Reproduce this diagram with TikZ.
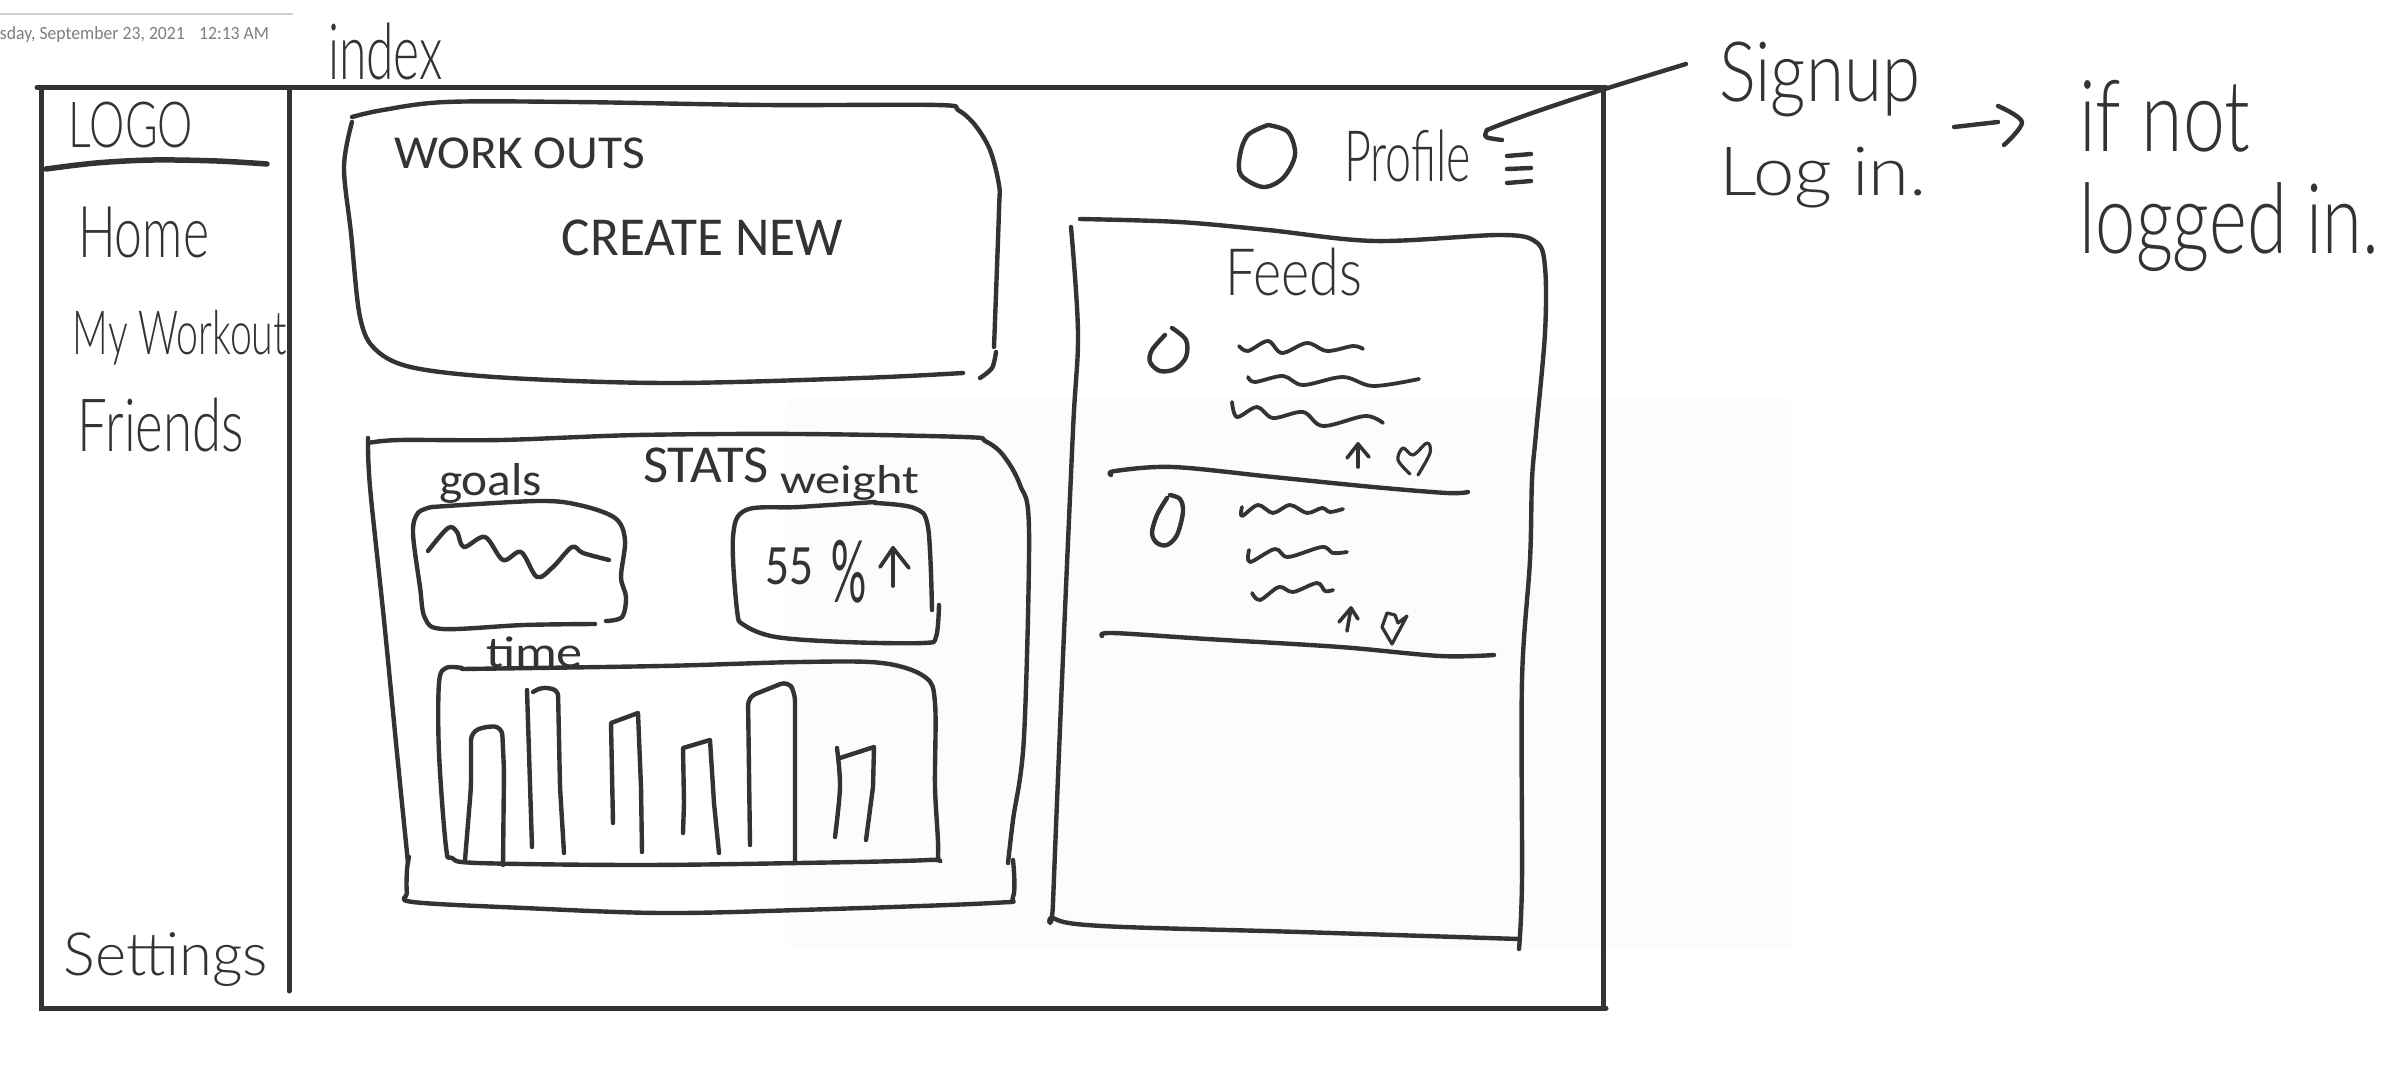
\documentclass[tikz,border=0pt]{standalone}
\usepackage{fontspec}
\usepackage{graphicx}
\setmainfont{Carlito}
\newfontfamily\lightf[UprightFont=* Light]{Lato}
\definecolor{ink}{HTML}{333333}
\definecolor{stamp}{HTML}{7F7F7F}
\definecolor{rulegray}{HTML}{CFCFCF}
\definecolor{ghost}{HTML}{FCFCFC}
\tikzset{
  inkline/.style={draw=ink,line width=4.4pt,line cap=round,line join=round},
  frameline/.style={draw=ink,line width=5pt,line cap=round},
  handtext/.style={inner sep=0pt,outer sep=0pt,text=ink,font=\lightf\fontsize{40}{40}\selectfont},
  smalltext/.style={inner sep=0pt,outer sep=0pt,text=ink,font=\normalfont\fontsize{40}{40}\selectfont},
}
% name, x0, x1, y0, y1, text : a text fitted into its ink box
\newcommand\hw[6]{%
  \pgfmathsetmacro\hwW{#3-#2}\pgfmathsetmacro\hwH{#5-#4}%
  \node[handtext] (#1) at ({(#2+#3)/2},{(#4+#5)/2}) {\resizebox*{\hwW pt}{\hwH pt}{#6}};}
\newcommand\hs[6]{%
  \pgfmathsetmacro\hwW{#3-#2}\pgfmathsetmacro\hwH{#5-#4}%
  \node[smalltext] (#1) at ({(#2+#3)/2},{(#4+#5)/2}) {\resizebox*{\hwW pt}{\hwH pt}{#6}};}
\newcommand\sk[2][]{\draw[inkline,#1] plot[smooth,tension=.55] coordinates {#2};}
\newcommand\pl[2][]{\draw[inkline,#1] plot coordinates {#2};}
\begin{document}
\begin{tikzpicture}[x=1pt,y=-1pt]
\useasboundingbox (0,0) rectangle (2399,1070);
\fill[white] (0,0) rectangle (2399,1070);
\fill[ghost,rounded corners=10pt] (785,398) rectangle (1793,949);
% date stamp
\draw[rulegray,line width=1.5pt] (0,14) -- (293,14);
\node[inner sep=0pt,outer sep=0pt] (date) at (134.5,34.5) {\resizebox*{269pt}{16pt}{\normalfont\fontsize{20}{20}\selectfont\textcolor{stamp}{sday, September 23, 2021\hspace{0.8em}12:13 AM}}};
% page frame
\draw[frameline] (37,87.5) -- (1606,87.5);
\draw[frameline] (41,87.5) -- (41,1008) -- (1606,1008);
\draw[frameline] (1603,87.5) -- (1603,1008);
\draw[frameline] (289,87.5) -- (289,991);
% sidebar
\hw{index}{328}{443}{23}{80}{index}
\hw{logo}{69}{193}{102}{148}{LOGO}
\sk[line width=5.5pt]{(46,169) (96,163) (153,160) (217,161) (267,164)}
\hw{home}{78}{209}{207}{258}{Home}
\hw{myworkout}{73}{287}{310}{365}{My Workout}
\hw{friends}{78}{244}{398}{452}{Friends}
\hw{settings}{64}{268}{933}{987}{Settings}
% workouts box
\sk{(352,117) (383,110) (446,102) (574,102) (765,105) (937,105) (958,110) (975,125) (990,150) (999,185) (999,210) (995,321) (994,347)}
\sk{(996,352) (992,368) (980,378)}
\sk{(963,373) (861,378) (670,383) (510,378) (415,368) (376,350) (360,317) (351,233) (344,167) (352,122)}
\hs{workouts}{394}{645}{138}{169}{WORK OUTS}
\hs{createnew}{562}{843}{220}{256}{CREATE NEW}
% stats box
\sk{(368,443) (400,440) (501,440) (638,435) (799,434) (964,437) (985,441) (1003,455) (1020,485) (1029,530) (1024,737) (1013,820) (1008,863)}
\sk{(1013,860) (1013,897) (992,903) (799,910) (661,913) (524,908) (413,902) (407,893) (407,870) (409,857)}
\sk{(368,438) (370,487) (384,620) (397,753) (408,863)}
\hs{stats}{643}{769}{448}{483}{STATS}
\hs{goals}{439}{542}{463}{503}{goals}
\hs{weight}{780}{919}{465}{500}{weight}
\hs{time}{486}{583}{637}{668}{time}
% goals chart
\sk{(432,507) (418,513) (413,533) (420,587) (425,618) (443,629) (524,625) (595,624)}
\sk{(606,621) (622,617) (626,597) (621,577) (625,540) (615,518) (579,505) (537,501) (432,507)}
\sk{(428,551) (448,528) (457,532) (464,547) (485,537) (503,560) (521,552) (537,577) (553,567) (572,547) (583,553) (609,560)}
% weight box
\sk{(875,503) (914,508) (928,527) (932,610)}
\sk{(939,605) (936,637) (923,643) (845,642) (776,637) (744,625) (737,610) (733,537) (746,510) (799,507) (875,502)}
\hs{pct}{765}{866}{540}{603}{\raisebox{18pt}{\resizebox*{48pt}{37pt}{55}}\hspace{18pt}\resizebox*{35pt}{63pt}{\%}}
\pl[line width=3.8pt]{(893,548) (893,586)}
\pl[line width=3.8pt]{(880,567) (893,548) (909,568)}
% time chart
\sk{(462,668) (446,668) (439,683) (439,753) (446,847) (452,858) (478,863) (638,865) (799,863) (928,860) (938,855) (935,787) (935,703) (925,677) (882,663) (799,662) (661,666) (462,669)}
\pl[rounded corners=8pt]{(465,860) (471,787) (471,732) (487,726) (502,727) (504,770) (503,865)}
\pl{(532,847) (527,690)}
\pl[rounded corners=6pt]{(533,692) (542,687) (558,690) (560,787) (564,853)}
\pl{(613,823) (611,723) (638,713) (641,787) (642,852)}
\pl{(683,833) (684,803) (683,748) (710,740) (714,803) (719,853)}
\pl[rounded corners=8pt]{(750,845) (748,697) (788,681) (795,693) (795,862)}
\sk{(835,837) (840,787) (837,748)}
\pl{(840,758) (874,747) (873,787) (866,840)}
% profile row
\sk{(1268,125) (1248,135) (1240,155) (1241,175) (1263,187) (1283,178) (1295,155) (1288,132) (1268,125)}
\hw{profile}{1344}{1471}{130}{182}{Profile}
\pl{(1507,156) (1531,154)}
\pl{(1507,169) (1531,168)}
\pl{(1507,183) (1531,181)}
% feeds box
\sk{(1080,219) (1179,222) (1268,230) (1375,241) (1500,235) (1536,242) (1545,267) (1545,333) (1536,433) (1532,480) (1530,560) (1522,680) (1522,880) (1519,949)}
\sk{(1071,227) (1078,333) (1073,430) (1062,680) (1053,903) (1053,918) (1102,926) (1300,932) (1519,939)}
\hw{feeds}{1225}{1362}{248}{296}{Feeds}
\sk{(1165,335) (1152,350) (1150,362) (1160,371) (1175,369) (1186,357) (1186,340) (1172,328)}
\sk[line width=3.8pt]{(1239,346) (1248,351) (1268,341) (1282,353) (1307,343) (1327,351) (1353,346) (1363,349)}
\sk[line width=3.8pt]{(1248,377) (1255,382) (1283,376) (1303,385) (1343,377) (1373,386) (1419,379)}
\sk[line width=3.8pt]{(1232,402) (1237,417) (1257,407) (1273,418) (1303,412) (1323,426) (1365,416) (1383,423)}
\pl[line width=3.6pt]{(1358,444) (1358,467)}
\pl[line width=3.6pt]{(1347,458) (1358,444) (1369,457)}
\sk[line width=3.2pt]{(1410,474) (1398,460) (1403,448) (1413,455) (1427,443) (1430,453) (1418,475)}
\sk{(1111,475) (1115,471) (1173,467) (1273,477) (1373,487) (1447,493) (1468,492)}
\sk{(1167,498) (1157,515) (1152,533) (1157,543) (1167,545) (1177,535) (1183,512) (1180,499) (1170,495)}
\sk[line width=3.8pt]{(1242,507) (1242,516) (1258,505) (1273,513) (1290,505) (1307,513) (1322,508) (1330,512) (1343,509)}
\sk[line width=3.8pt]{(1249,550) (1250,562) (1275,549) (1288,557) (1322,547) (1333,553) (1347,552)}
\sk[line width=3.8pt]{(1252,593) (1260,600) (1279,587) (1293,592) (1317,583) (1325,591) (1333,590)}
\pl[line width=3.6pt]{(1347,631) (1351,608)}
\pl[line width=3.6pt]{(1339,622) (1351,608) (1358,619)}
\pl[line width=3.2pt]{(1392,644) (1382,627) (1387,613) (1395,615) (1398,623) (1407,616) (1392,644)}
\sk{(1102,636) (1113,633) (1207,639) (1340,647) (1440,656) (1494,655)}
% notes at right
\hw{signup}{1719}{1920}{42}{117}{Signup}
\hw{login}{1719}{1927}{147}{208}{Log in.}
\hw{ifnot}{2079}{2250}{80}{152}{if not}
\hw{loggedin}{2080}{2379}{183}{272}{logged in.}
\coordinate (signuptail) at (1686,64);
\coordinate (profiletip) at (1487,130);
\draw[inkline] (signuptail) .. controls (1640,78) and (1540,108) .. (profiletip);
\sk{(profiletip) (1486,137) (1502,140)}
\coordinate (logintail) at (1954,127);
\coordinate (ifnottip) at (2022,122);
\draw[inkline] (logintail) -- (1998,122);
\sk{(1998,106) (ifnottip) (2004,145)}
\end{tikzpicture}
\end{document}
